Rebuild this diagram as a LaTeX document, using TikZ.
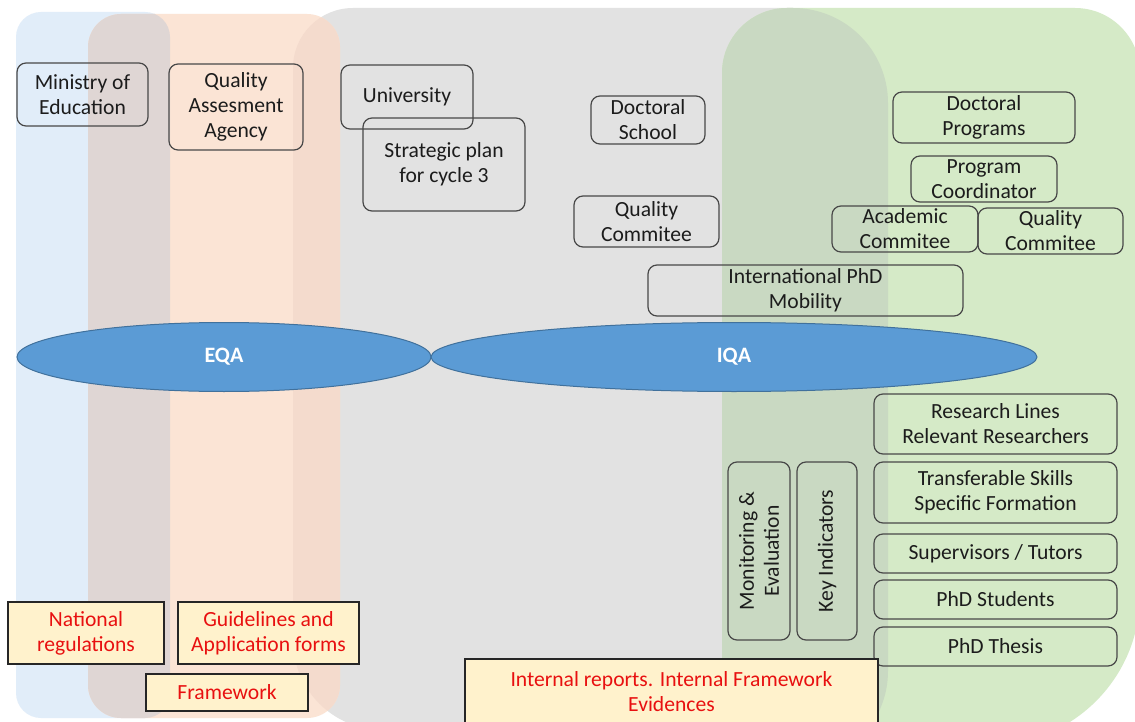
\documentclass[tikz,border=0pt]{standalone}
\usepackage{fontspec}
\setmainfont{Carlito}
\usetikzlibrary{shapes.geometric}
\definecolor{bluereg}{RGB}{225,237,249}
\definecolor{brownreg}{RGB}{223,214,212}
\definecolor{orangereg}{RGB}{251,228,213}
\definecolor{dorangereg}{RGB}{244,219,205}
\definecolor{grayreg}{RGB}{226,226,226}
\definecolor{ggreg}{RGB}{201,217,194}
\definecolor{greenreg}{RGB}{213,234,199}
\definecolor{ellfill}{RGB}{91,155,213}
\definecolor{elldraw}{RGB}{65,113,156}
\definecolor{boxline}{RGB}{72,72,72}
\definecolor{txtc}{RGB}{28,28,28}
\definecolor{notefill}{RGB}{255,242,204}
\definecolor{notetxt}{RGB}{232,16,16}
\newcommand\regblue[1]{\path[#1,rounded corners=25pt] (16,12) rectangle (170,718);}
\newcommand\regorange[1]{\path[#1,rounded corners=33pt] (88,14) rectangle (340,718);}
\newcommand\reggray[1]{\path[#1] (293,640) -- (293,68) arc[start angle=180,end angle=90,radius=60pt] -- (793,8) arc[start angle=90,end angle=0,radius=95pt] -- (888,671) arc[start angle=0,end angle=-90,radius=95pt] -- (383,730) arc[start angle=-90,end angle=-180,radius=90pt] -- cycle;}
\newcommand\reggreen[1]{\path[#1] (722,715) -- (722,73) arc[start angle=180,end angle=90,radius=65pt] -- (1075,8) arc[start angle=90,end angle=0,radius=65pt] -- (1140,595) arc[start angle=0,end angle=-90,radius=150pt] -- (752,745) arc[start angle=-90,end angle=-180,radius=30pt] -- cycle;}
\begin{document}
\begin{tikzpicture}[x=1pt,y=-1pt,
  box/.style={draw=boxline, line width=1.2pt, rounded corners=9pt, inner sep=0pt},
  txt/.style={align=center, text=txtc, font=\fontsize{21.6}{25}\selectfont, inner sep=0pt},
  note/.style={draw=black!85, line width=1.2pt, fill=notefill, inner sep=0pt},
  notetx/.style={align=center, text=notetxt, font=\fontsize{21.6}{25}\selectfont, inner sep=0pt},
  oval/.style={ellipse, draw=elldraw, line width=1pt, fill=ellfill, inner sep=0pt},
  ovaltx/.style={text=white, font=\fontsize{22}{25}\selectfont\bfseries, inner sep=0pt},
]
\useasboundingbox (0,0) rectangle (1135,722);
\clip (0,0) rectangle (1135,722);
\fill[white] (0,0) rectangle (1135,722);
% background regions
\regblue{fill=bluereg}
\reggray{fill=grayreg}
\regorange{fill=orangereg}
\begin{scope}\regblue{clip}\regorange{fill=brownreg}\end{scope}
\begin{scope}\reggray{clip}\regorange{fill=dorangereg}\end{scope}
\reggreen{fill=greenreg}
\begin{scope}\reggray{clip}\reggreen{fill=ggreg}\end{scope}

% top boxes
\node[box, minimum width=131pt, minimum height=63pt, label={[txt]center:{Ministry of\\Education}}] (moe) at (82.5,94.5) {};
\node[box, minimum width=134pt, minimum height=86pt, label={[txt]center:{Quality\\Assesment\\Agency}}] (qaa) at (236,107) {};
\node[box, minimum width=132pt, minimum height=64pt, label={[txt]center:{University}}] (uni) at (407,97) {};
\node[box, minimum width=162pt, minimum height=93pt, label={[txt]center:{Strategic plan\\for cycle 3}}] (sp) at (444,164.5) {};
\node[box, minimum width=114pt, minimum height=48pt, label={[txt]center:{Doctoral\\School}}] (ds) at (648,120) {};
\node[box, minimum width=145pt, minimum height=51pt, label={[txt]center:{Quality\\Commitee}}] (qc1) at (646.5,221.5) {};
\node[box, minimum width=315pt, minimum height=51pt, label={[txt]center:{International PhD\\Mobility}}] (ipm) at (805.5,290.5) {};
\node[box, minimum width=182pt, minimum height=51pt, label={[txt]center:{Doctoral\\Programs}}] (dp) at (984,117.5) {};
\node[box, minimum width=146pt, minimum height=46pt, label={[txt]center:{Program\\Coordinator}}] (pc) at (984,179) {};
\node[box, minimum width=146pt, minimum height=46pt, label={[txt]center:{Academic\\Commitee}}] (ac) at (905,229) {};
\node[box, minimum width=145pt, minimum height=46pt, label={[txt]center:{Quality\\Commitee}}] (qc2) at (1050.5,231) {};

% ellipses
\node[oval, minimum width=414pt, minimum height=69pt, label={[ovaltx]center:EQA}] (eqa) at (224,357) {};
\node[oval, minimum width=606pt, minimum height=69pt, label={[ovaltx]center:IQA}] (iqa) at (734,357) {};

% bottom right boxes
\node[box, minimum width=243pt, minimum height=60pt, label={[txt]center:{Research Lines\\Relevant Researchers}}] (rl) at (995.5,424) {};
\node[box, minimum width=243pt, minimum height=61pt, label={[txt]center:{Transferable Skills\\Specific Formation}}] (ts) at (995.5,492.5) {};
\node[box, minimum width=243pt, minimum height=39pt, label={[txt]center:{Supervisors / Tutors}}] (st) at (995.5,553.5) {};
\node[box, minimum width=243pt, minimum height=39pt, label={[txt]center:{PhD Students}}] (ps) at (995.5,599.5) {};
\node[box, minimum width=243pt, minimum height=39pt, label={[txt]center:{PhD Thesis}}] (pt) at (995.5,646.5) {};
\node[box, minimum width=62pt, minimum height=178pt, label={[txt,rotate=90]center:{Monitoring \&\\Evaluation}}] (me) at (759,551) {};
\node[box, minimum width=60pt, minimum height=178pt, label={[txt,rotate=90]center:{Key Indicators}}] (ki) at (827,551) {};

% notes
\node[note, minimum width=156pt, minimum height=62pt, label={[notetx]center:{National\\regulations}}] (nr) at (86,633) {};
\node[note, minimum width=181pt, minimum height=62pt, label={[notetx]center:{Guidelines and\\Application forms}}] (ga) at (268.5,633) {};
\node[note, minimum width=162pt, minimum height=37pt, label={[notetx]center:{Framework}}] (fw) at (227,692.5) {};
\node[note, minimum width=413pt, minimum height=66pt, label={[notetx]center:{Internal reports. Internal Framework\\Evidences}}] (ir) at (671.5,692) {};
\end{tikzpicture}
\end{document}
